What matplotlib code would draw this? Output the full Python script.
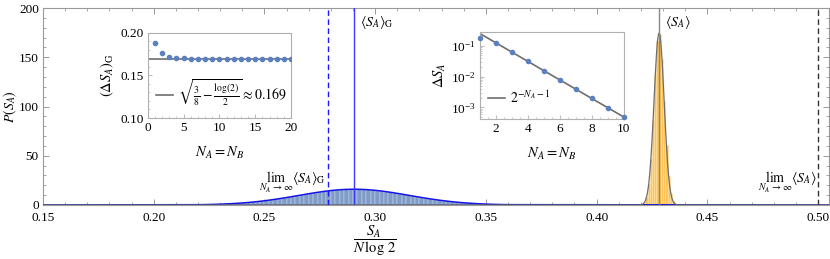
import numpy as np
import matplotlib
matplotlib.use("Agg")
import matplotlib.pyplot as plt
from matplotlib.ticker import MultipleLocator, LogLocator, NullFormatter

plt.rcParams['font.family'] = ['Liberation Serif', 'DejaVu Serif']
plt.rcParams['mathtext.fontset'] = 'stix'

# ---------------- data ----------------
# Gaussian-ensemble histogram (bin width 0.002, left edges from 0.220)
blue_left = 0.220
blue_width = 0.002
blue_hist = [0.34, 0.42, 0.52, 0.64, 0.78, 0.94, 1.14, 1.36, 1.62, 1.92,
             2.25, 2.63, 3.05, 3.52, 4.03, 4.59, 5.20, 5.84, 6.52, 7.23,
             7.98, 8.74, 9.51, 10.28, 11.05, 11.81, 12.52, 13.20, 13.83, 14.39,
             14.88, 15.30, 15.62, 15.84, 15.97, 16.00, 15.92, 15.74, 15.47, 15.10,
             14.65, 14.12, 13.52, 12.87, 12.16, 11.43, 10.67, 9.90, 9.12, 8.35,
             7.60, 6.87, 6.18, 5.51, 4.89, 4.31, 3.77, 3.28, 2.84, 2.44,
             2.08, 1.76, 1.49, 1.24, 1.03, 0.86, 0.70, 0.57, 0.47, 0.37]

# Unitary-ensemble histogram (bin width 0.001, left edges from 0.420)
orange_left = 0.420
orange_width = 0.001
orange_hist = [0.58, 2.33, 7.69, 20.9, 46.9, 86.8, 132.5, 167.0,
               173.5, 148.7, 105.2, 61.4, 29.6, 11.7, 3.85, 1.04]

# fitted curve for the unitary ensemble (x, y)
orange_curve_x = [0.4190, 0.4195, 0.4200, 0.4205, 0.4210, 0.4215, 0.4220, 0.4225,
                  0.4230, 0.4235, 0.4240, 0.4245, 0.4250, 0.4255, 0.4260, 0.4265,
                  0.4270, 0.4275, 0.4280, 0.4285, 0.4290, 0.4295, 0.4300, 0.4305,
                  0.4310, 0.4315, 0.4320, 0.4325, 0.4330, 0.4335, 0.4340, 0.4345,
                  0.4350, 0.4355, 0.4360, 0.4365, 0.4370]
orange_curve_y = [0.05, 0.12, 0.27, 0.58, 1.20, 2.33, 4.34, 7.69,
                  12.98, 20.9, 32.1, 46.9, 65.3, 86.8, 109.9, 132.5,
                  152.4, 167.0, 174.3, 173.5, 164.5, 148.7, 128.1, 105.2,
                  82.3, 61.4, 43.6, 29.6, 19.1, 11.7, 6.88, 3.85,
                  2.05, 1.04, 0.50, 0.23, 0.10]

# reference positions
mean_G = 0.2905
lim_G = 0.2787
mean_U = 0.4282
lim_U = 0.50

# inset 1: (Delta S_A)_G vs N_A
inset1_N = list(range(1, 21))
inset1_val = [0.1885, 0.1757, 0.1721, 0.1707, 0.1700, 0.1696, 0.1694, 0.1693, 0.1692, 0.1691,
              0.1690, 0.1690, 0.1689, 0.1689, 0.1689, 0.1688, 0.1688, 0.1688, 0.1688, 0.1688]
inset1_limit = 0.1686

# inset 2: Delta S_A vs N_A
inset2_N = list(range(1, 11))
inset2_val = [0.182, 0.120, 0.0610, 0.0310, 0.0155, 0.00780, 0.00390, 0.00195, 0.00098, 0.00049]
inset2_line_N = [1, 10]
inset2_line_val = [0.25, 0.000488]

# ---------------- figure ----------------
fig = plt.figure(figsize=(8.3, 2.59), dpi=100)
ax = fig.add_axes([0.0518, 0.2085, 0.9472, 0.7605])

frame_col = '#9a9a9a'
for s in ax.spines.values():
    s.set_color(frame_col)
    s.set_linewidth(0.8)

# blue histogram
bx = [blue_left + i * blue_width for i in range(len(blue_hist))]
ax.bar(bx, blue_hist, width=blue_width, align='edge', color='#7f9bc8',
       edgecolor='#e8eef8', linewidth=0.25, zorder=2)
bcx = [0.15] + [b + blue_width / 2 for b in bx] + [0.505]
bcy = [0.0] + blue_hist + [0.0]
ax.plot(bcx, bcy, color='#1414e6', lw=1.1, zorder=3)

# orange histogram
ox = [orange_left + i * orange_width for i in range(len(orange_hist))]
ax.bar(ox, orange_hist, width=orange_width, align='edge', color='#ffc457',
       edgecolor='#ffe2a6', linewidth=0.4, zorder=2)
ax.plot([0.15] + orange_curve_x + [0.505], [0.0] + orange_curve_y + [0.0],
        color='#6e6e6e', lw=0.9, zorder=3)
ax.axhline(0, color='#2a2a7a', lw=1.0, zorder=4)

# vertical reference lines
ax.axvline(mean_G, color='#3b3bff', lw=1.0, zorder=3)
ax.axvline(lim_G, color='#1a1aff', lw=1.0, ls=(0, (4, 2.5)), zorder=3)
ax.axvline(mean_U, color='#888888', lw=1.0, zorder=3)
ax.axvline(lim_U, color='#333333', lw=1.0, ls=(0, (4, 2.5)), zorder=3)

ax.text(mean_G + 0.0025, 194, r'$\langle S_A\rangle_{\rm G}$', fontsize=10,
        va='top', ha='left')
ax.text(mean_U + 0.0025, 194, r'$\langle S_A\rangle$', fontsize=10,
        va='top', ha='left')
ax.text(lim_G - 0.0008, 10, r'$\lim_{N_A\to\infty}\langle S_A\rangle_{\rm G}$',
        fontsize=10, va='bottom', ha='right')
ax.text(lim_U - 0.0008, 10, r'$\lim_{N_A\to\infty}\langle S_A\rangle$',
        fontsize=10, va='bottom', ha='right')

ax.set_xlim(0.15, 0.505)
ax.set_ylim(0, 200)
ax.xaxis.set_major_locator(MultipleLocator(0.05))
ax.xaxis.set_minor_locator(MultipleLocator(0.01))
ax.yaxis.set_major_locator(MultipleLocator(50))
ax.yaxis.set_minor_locator(MultipleLocator(10))
ax.xaxis.set_major_formatter(matplotlib.ticker.FormatStrFormatter('%.2f'))
ax.tick_params(which='both', direction='in', top=True, right=True,
               color=frame_col, labelsize=9.5)
ax.tick_params(axis='x', pad=5)
ax.tick_params(axis='y', pad=3)
ax.tick_params(which='major', length=4, width=0.7)
ax.tick_params(which='minor', length=2.2, width=0.6)
ax.set_ylabel(r'$P(S_A)$', fontsize=10)
ax.yaxis.set_label_coords(-0.031, 0.5)
ax.set_xlabel(r'$\dfrac{S_A}{N\,\log\,2}$', fontsize=10.5)
ax.xaxis.set_label_coords(0.4213, -0.095)

# ---------------- inset 1 ----------------
a1 = fig.add_axes([0.178, 0.5444, 0.1727, 0.3293])
a1.axhline(inset1_limit, color='#6e6e6e', lw=1.2, zorder=2,
           label=r'$\sqrt{\frac{3}{8}-\frac{\log(2)}{2}}\approx 0.169$')
a1.plot(inset1_N, inset1_val, 'o', color='#5b80c0', ms=3.0, zorder=3)
a1.set_xlim(0, 20)
a1.set_ylim(0.10, 0.20)
a1.xaxis.set_major_locator(MultipleLocator(5))
a1.xaxis.set_minor_locator(MultipleLocator(1))
a1.yaxis.set_major_locator(MultipleLocator(0.05))
a1.yaxis.set_minor_locator(MultipleLocator(0.01))
a1.yaxis.set_major_formatter(matplotlib.ticker.FormatStrFormatter('%.2f'))
for s in a1.spines.values():
    s.set_color('#b0b0b0')
    s.set_linewidth(0.8)
a1.tick_params(which='both', direction='in', color='#b0b0b0', labelsize=9.5, pad=3)
a1.tick_params(which='major', length=3, width=0.6)
a1.tick_params(which='minor', length=1.6, width=0.5)
a1.set_ylabel(r'$(\Delta S_A)_{\rm G}$', fontsize=10.5, labelpad=3)
a1.set_xlabel(r'$N_A = N_B$', fontsize=10.5, labelpad=8)
a1.legend(loc='lower left', frameon=False, fontsize=10, handlelength=1.2,
          handletextpad=0.4, borderaxespad=0.2, bbox_to_anchor=(0.0, 0.02))

# ---------------- inset 2 ----------------
a2 = fig.add_axes([0.578, 0.5405, 0.1735, 0.3371])
a2.semilogy(inset2_line_N, inset2_line_val, color='#6e6e6e', lw=1.2, zorder=2,
            label=r'$2^{-N_A-1}$')
a2.semilogy(inset2_N, inset2_val, 'o', color='#5b80c0', ms=3.0, zorder=3,
            clip_on=False)
a2.set_xlim(1, 10)
a2.set_ylim(4.2e-4, 0.285)
a2.xaxis.set_major_locator(MultipleLocator(2))
a2.xaxis.set_minor_locator(MultipleLocator(0.5))
a2.yaxis.set_major_locator(LogLocator(base=10, numticks=10))
a2.yaxis.set_minor_locator(LogLocator(base=10, subs=np.arange(2, 10) * 1.0, numticks=20))
a2.yaxis.set_minor_formatter(NullFormatter())
for s in a2.spines.values():
    s.set_color('#b0b0b0')
    s.set_linewidth(0.8)
a2.tick_params(which='both', direction='in', color='#b0b0b0', labelsize=9.5, pad=3)
a2.tick_params(which='major', length=3, width=0.6)
a2.tick_params(which='minor', length=1.6, width=0.5)
a2.set_ylabel(r'$\Delta S_A$', fontsize=10.5, labelpad=2)
a2.set_xlabel(r'$N_A = N_B$', fontsize=10.5, labelpad=8)
a2.legend(loc='lower left', frameon=False, fontsize=10, handlelength=1.2,
          handletextpad=0.4, borderaxespad=0.2, bbox_to_anchor=(0.0, 0.05))

fig.savefig('out.png', dpi=100)
